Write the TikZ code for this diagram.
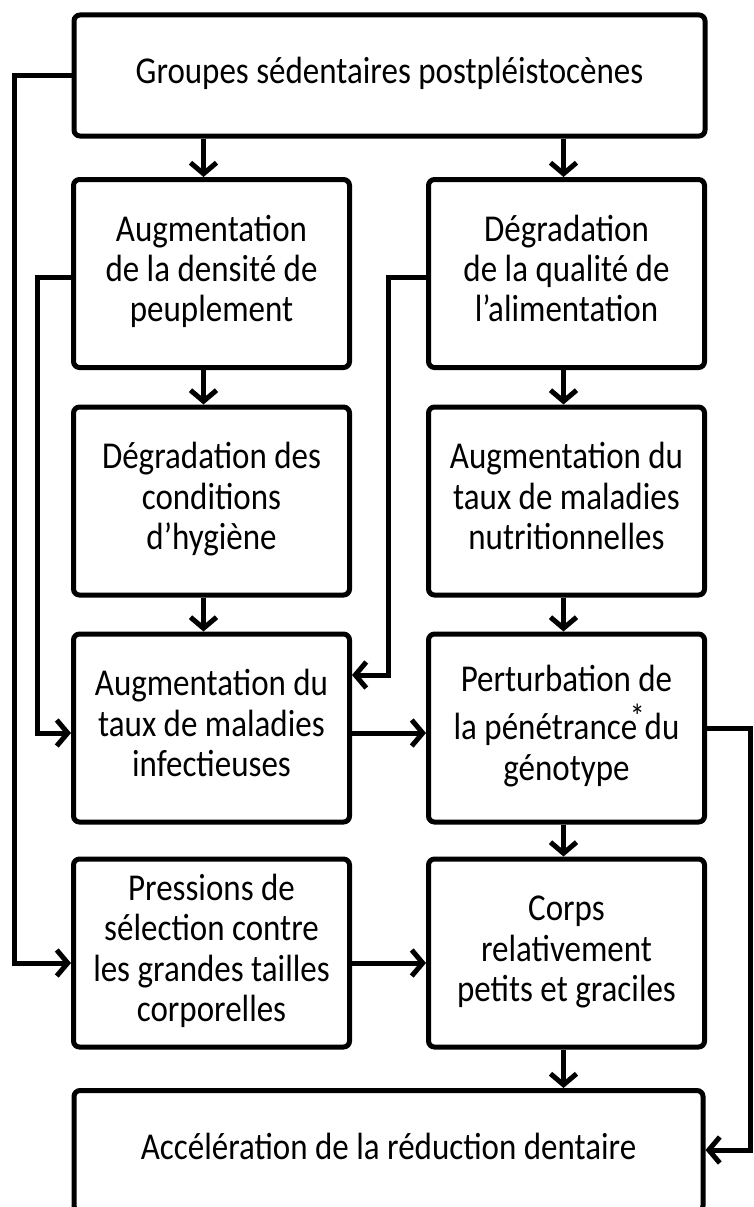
\documentclass[tikz,border=0pt]{standalone}
\usepackage{fontspec}
\usepackage{graphicx}
\setmainfont{Carlito}
\usetikzlibrary{arrows.meta}
\newcommand{\tx}[1]{\scalebox{1}[1.15]{\begin{tabular}{@{}c@{}}#1\end{tabular}}}
\begin{document}
\begin{tikzpicture}[x=1pt,y=-1pt,
  box/.style={draw, line width=5pt, rounded corners=6pt, align=center, inner sep=0pt,
    font=\fontsize{33}{35}\selectfont},
  colbox/.style={box, minimum width=276pt, minimum height=188pt},
  widebox/.style={box, minimum height=121pt},
  arr/.style={line width=5pt, -{Straight Barb[length=11pt,width=26pt]}},
  ln/.style={line width=5pt}]
\useasboundingbox (0,0) rectangle (753,1207);

\node[widebox, minimum width=631pt] (top) at (389.5,75.5) {\tx{Groupes sédentaires postpléistocènes}};

\node[colbox] (r2L) at (211.5,273.5) {\tx{Augmentation\\de la densité de\\peuplement}};
\node[colbox] (r2R) at (566.5,273.5) {\tx{Dégradation\\de la qualité de\\l’alimentation}};

\node[colbox] (r3L) at (211.5,501) {\tx{Dégradation des\\conditions\\d’hygiène}};
\node[colbox] (r3R) at (566.5,501) {\tx{Augmentation du\\taux de maladies\\nutritionnelles}};

\node[colbox] (r4L) at (211.5,728) {\tx{Augmentation du\\taux de maladies\\infectieuses}};
\node[colbox] (r4R) at (566.5,728) {\tx{Perturbation de\\la pénétrance\makebox[0pt]{\raisebox{0.3em}{\fontsize{30}{30}\selectfont *}} du\\génotype}};

\node[colbox] (r5L) at (211.5,953) {\tx{Pressions de\\sélection contre\\les grandes tailles\\corporelles}};
\node[colbox] (r5R) at (566.5,953) {\tx{Corps\\relativement\\petits et graciles}};

\node[widebox, minimum width=629pt] (bot) at (388.5,1151) {\tx{Accélération de la réduction dentaire}};

% vertical arrows
\coordinate (xl) at ([xshift=-8pt]r2L.north);
\coordinate (xr) at ([xshift=-3pt]r2R.north);
\draw[arr] (xl |- top.south) -- (xl |- r2L.north);
\draw[arr] (xr |- top.south) -- (xr |- r2R.north);
\draw[arr] (xl |- r2L.south) -- (xl |- r3L.north);
\draw[arr] (xr |- r2R.south) -- (xr |- r3R.north);
\draw[arr] (xl |- r3L.south) -- (xl |- r4L.north);
\draw[arr] (xr |- r3R.south) -- (xr |- r4R.north);
\draw[arr] (xr |- r4R.south) -- (xr |- r5R.north);
\draw[arr] (xr |- r5R.south) -- (xr |- bot.north);

% long left loop
\coordinate (c1) at (14,963);
\draw[arr] (top.west) -| (c1) -- (c1 -| r5L.west);

% inner left loop
\coordinate (s2) at (74,277);
\coordinate (c2) at (37,733);
\draw[arr] (s2) -| (c2) -- (c2 -| r4L.west);

% middle loop
\coordinate (s3) at (428,277);
\coordinate (c3) at (388,675);
\draw[arr] (s3) -| (c3) -- (c3 -| r4L.east);

% horizontal arrows
\coordinate (h4) at (0,733);
\draw[arr] (h4 -| r4L.east) -- (h4 -| r4R.west);
\coordinate (h5) at (0,963);
\draw[arr] (h5 -| r5L.east) -- (h5 -| r5R.west);

% right loop
\coordinate (c6) at (750,1150);
\draw[arr] (r4R.east) -| (c6) -- (c6 -| bot.east);
\end{tikzpicture}
\end{document}
